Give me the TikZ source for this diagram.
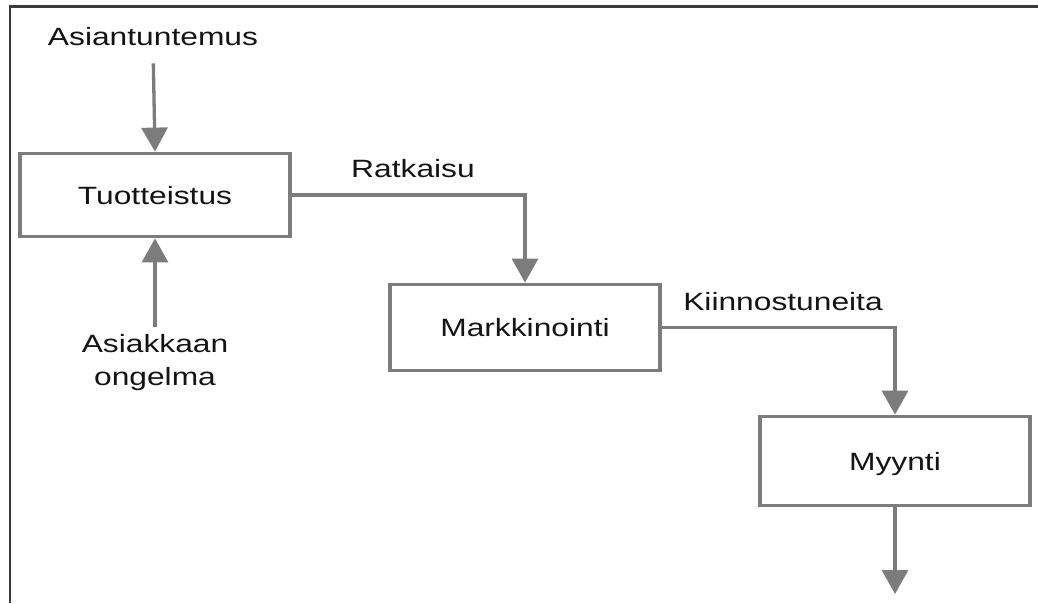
\documentclass[tikz,border=0pt]{standalone}
\usepackage{fontspec}
\setmainfont[FakeStretch=1.27]{Liberation Sans}
\usetikzlibrary{arrows.meta}
\definecolor{linegray}{HTML}{7C7C7C}
\definecolor{framegray}{HTML}{3A3A3A}
\definecolor{txt}{HTML}{141414}
\begin{document}
\begin{tikzpicture}[x=1pt,y=-1pt,
  box/.style={draw=linegray,line width=3.8pt,fill=white,minimum width=270pt,
    inner sep=0pt,text=txt,font=\fontsize{25}{33}\selectfont,text height=18pt,text depth=0pt},
  lbl/.style={text=txt,font=\fontsize{25}{33}\selectfont,inner sep=0pt},
  conn/.style={draw=linegray,line width=3.3pt,-{Triangle[width=26pt,length=24pt]}}]
\useasboundingbox (0,0) rectangle (1038,603);
\draw[framegray,line width=2.2pt] (1038,6.5) -- (10,6.5) -- (10,603);

\node[box,minimum height=83pt] (tuo) at (155,195) {Tuotteistus};
\node[box,minimum height=86pt] (mark) at (525,327.5) {Markkinointi};
\node[box,minimum height=89pt] (myy) at (895,461) {Myynti};

\node[lbl,anchor=base] (asiant) at (153,45) {Asiantuntemus};
\node[lbl,anchor=north,align=center] (asiak) at (155,334) {Asiakkaan\\ongelma};
\node[lbl,anchor=base] (ratk) at (413,177) {Ratkaisu};
\node[lbl,anchor=base] (kiin) at (783,310) {Kiinnostuneita};
\coordinate (out) at (895,594);

\draw[conn,shorten <=18pt] (asiant.south) -- (tuo.north);
\draw[conn,shorten <=7pt] (asiak.north) -- (tuo.south);
\draw[conn] (tuo.east) -| (mark.north);
\draw[conn] (mark.east) -| (myy.north);
\draw[conn] (myy.south) -- (out);
\end{tikzpicture}
\end{document}
